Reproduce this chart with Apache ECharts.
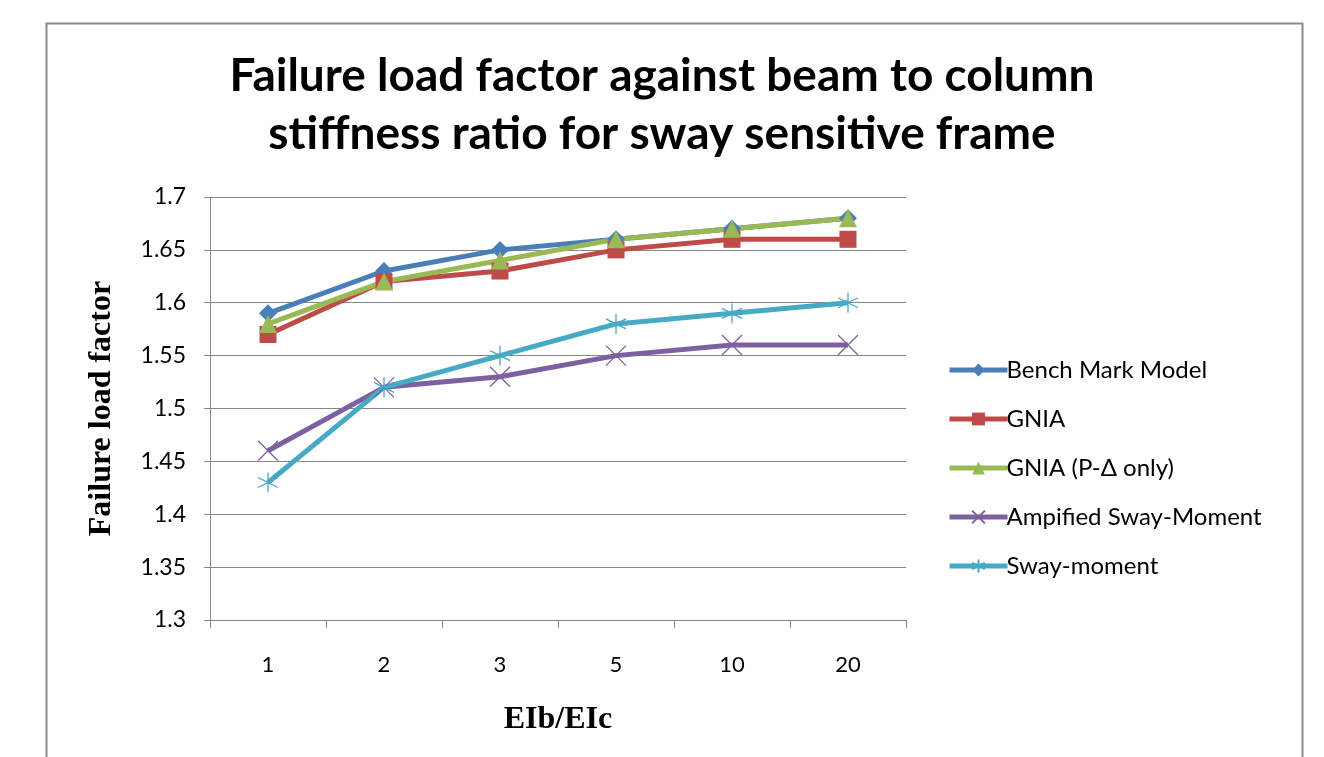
<!DOCTYPE html>
<html><head><meta charset="utf-8">
<script src="https://cdn.jsdelivr.net/npm/echarts@6/dist/echarts.min.js"></script>
<style>html,body{margin:0;padding:0;background:#fff}#c{width:1324px;height:757px}</style>
</head><body><div id="c"></div>
<script>
const categories = ['1','2','3','5','10','20'];
const benchMark = [1.59, 1.63, 1.65, 1.66, 1.67, 1.68];
const gnia = [1.57, 1.62, 1.63, 1.65, 1.66, 1.66];
const gniaPDelta = [1.58, 1.62, 1.64, 1.66, 1.67, 1.68];
const amplifiedSway = [1.46, 1.52, 1.53, 1.55, 1.56, 1.56];
const swayMoment = [1.43, 1.52, 1.55, 1.58, 1.59, 1.60];
const seriesNames = ['Bench Mark Model','GNIA','GNIA (P-\u0394 only)','Ampified Sway-Moment','Sway-moment'];

const chart = echarts.init(document.getElementById('c'));
const crossPath = 'path://M0,0L10,10M10,0L0,10';
const starPath = 'path://M5,0L5,10M0,2.5L10,7.5M0,7.5L10,2.5';
function mk(name, data, color, symbol, size, stroke) {
  return {
    name, type: 'line', data, symbol, symbolSize: size,
    lineStyle: { color, width: 5 },
    itemStyle: stroke ? { color: 'none', borderColor: color, borderWidth: 1.3 } : { color, borderColor: color, borderWidth: 0 },
    z: 2
  };
}
chart.setOption({
  animation: false,
  backgroundColor: '#fff',
  graphic: [{ type: 'rect', left: 44, top: 21, shape: { width: 1256, height: 800 }, style: { fill: 'none', stroke: '#8a8a8a', lineWidth: 2 }, silent: true }],
  title: {
    text: 'Failure load factor against beam to column\nstiffness ratio for sway sensitive frame',
    left: 'center', top: 42,
    textStyle: { fontFamily: 'Lato', fontWeight: 'bold', fontSize: 46, lineHeight: 58, color: '#000' }
  },
  legend: {
    orient: 'vertical', left: 942, top: 353, itemGap: 25, itemWidth: 58, itemHeight: 16,
    lineStyle: { width: 5 },
    textStyle: { fontFamily: 'Lato', fontSize: 24, lineHeight: 16, color: '#000', padding: [0,0,0,-6] },
    data: seriesNames
  },
  grid: { left: 210, right: 418, top: 197, bottom: 137 },
  xAxis: {
    type: 'category', data: categories, boundaryGap: true,
    axisLine: { lineStyle: { color: '#868686', width: 1 } },
    axisTick: { show: true, length: 8, lineStyle: { color: '#868686' } },
    axisLabel: { fontFamily: 'Lato', fontSize: 22, color: '#000', margin: 34 },
    name: 'EIb/EIc', nameLocation: 'middle', nameGap: 84,
    nameTextStyle: { fontFamily: 'Liberation Serif', fontWeight: 'bold', fontSize: 32, color: '#000' }
  },
  yAxis: {
    type: 'value', min: 1.3, max: 1.7, interval: 0.05,
    axisLine: { show: true, lineStyle: { color: '#868686', width: 1 } },
    axisTick: { show: true, length: 6, lineStyle: { color: '#868686' } },
    splitLine: { lineStyle: { color: '#868686', width: 1 } },
    axisLabel: { fontFamily: 'Lato', fontSize: 23, color: '#000', margin: 24, formatter: v => String(+v.toFixed(2)) },
    name: 'Failure load factor', nameLocation: 'middle', nameGap: 92, nameRotate: 90,
    nameTextStyle: { fontFamily: 'Liberation Serif', fontWeight: 'bold', fontSize: 32, color: '#000' }
  },
  series: [
    mk(seriesNames[0], benchMark, '#4a7ebb', 'diamond', 18, false),
    mk(seriesNames[1], gnia, '#be4b48', 'rect', 17, false),
    mk(seriesNames[2], gniaPDelta, '#98b954', 'triangle', 18, false),
    mk(seriesNames[3], amplifiedSway, '#7d60a0', crossPath, 20, true),
    mk(seriesNames[4], swayMoment, '#46aac5', starPath, 20, true)
  ]
});
</script></body></html>
